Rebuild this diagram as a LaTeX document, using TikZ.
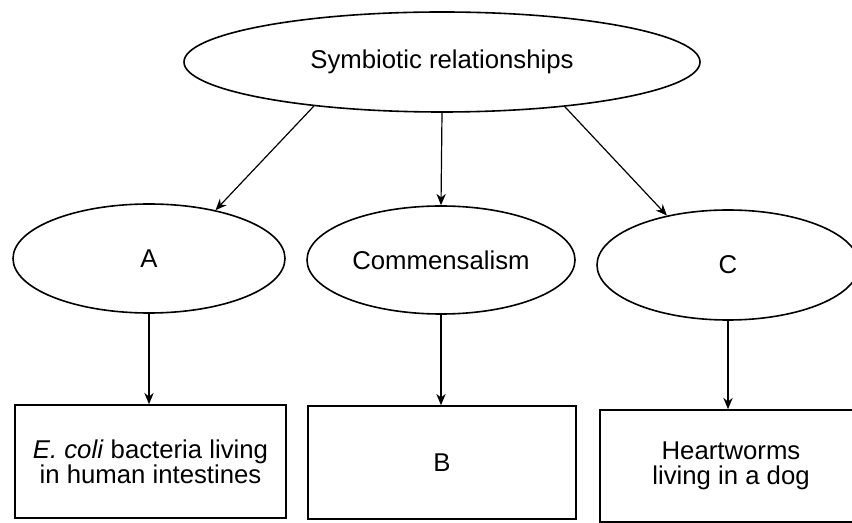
\documentclass[tikz,border=0pt]{standalone}
\usepackage{fontspec}
\setmainfont{Liberation Sans}
\usetikzlibrary{shapes,arrows.meta,positioning}

\begin{document}
\begin{tikzpicture}[x=0.75pt, y=-0.75pt, line width=1.2pt,
    every node/.style={font=\fontsize{19.3}{18.5}\selectfont},
    oval/.style={draw, ellipse, inner sep=0pt},
    card/.style={draw, rectangle, inner sep=0pt, align=center},
    link/.style={line width=0.9pt, -{Stealth[length=8.5pt,width=7pt]}}]
    \useasboundingbox (0,0) rectangle (852,523);

    % Top
    \node[oval, minimum width=387pt, minimum height=75pt] (sym) at (442,62) {Symbiotic relationships};

    % Kinds
    \node[oval, minimum width=204pt, minimum height=81.75pt] (kindA) at (149,258.5) {A};
    \node[oval, minimum width=201pt, minimum height=81pt] (kindB) at (441,260) {Commensalism};
    \node[oval, minimum width=196.5pt, minimum height=82.5pt] (kindC) at (728,265) {C};

    % Examples
    \node[card, minimum width=203.25pt, minimum height=84.75pt] (exA) at (150.5,461.5) {\textit{E. coli} bacteria living\\in human intestines};
    \node[card, minimum width=201pt, minimum height=84.75pt] (exB) at (442,462.5) {B};
    \node[card, minimum width=196.5pt, minimum height=84pt] (exC) at (731,466) {Heartworms\\living in a dog};

    % Arrows
    \draw[link] (sym.199) -- (kindA.36);
    \draw[link] (sym.south) -- (kindB.north);
    \draw[link] (sym.340) -- (kindC.141);
    \draw[link] (kindA.south) -- (kindA.south |- exA.north);
    \draw[link] (kindB.south) -- (kindB.south |- exB.north);
    \draw[link] (kindC.south) -- (kindC.south |- exC.north);
\end{tikzpicture}
\end{document}
